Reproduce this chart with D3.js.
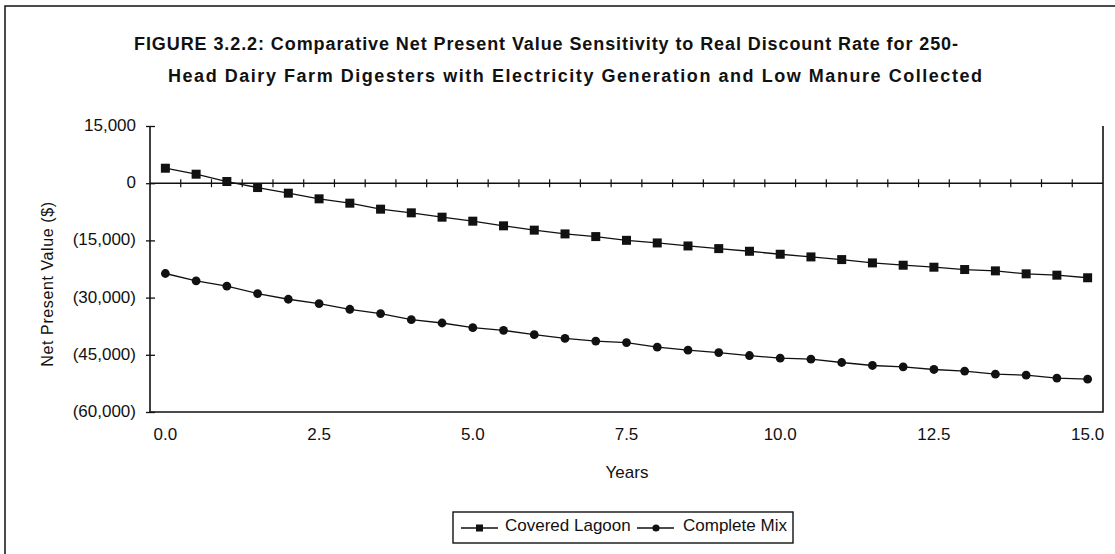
<!DOCTYPE html>
<html>
<head>
<meta charset="utf-8">
<script src="https://cdn.jsdelivr.net/npm/d3@7"></script>
<style>
  body { margin: 0; background: #fff; }
  svg { display: block; }
  text { font-family: "Liberation Sans", Arial, sans-serif; fill: #111; }
</style>
</head>
<body>
<svg id="chart" width="1115" height="554"></svg>
<script>
// Years on the category axis (half-year steps)
const years = [0, 0.5, 1, 1.5, 2, 2.5, 3, 3.5, 4, 4.5, 5, 5.5, 6, 6.5, 7, 7.5,
               8, 8.5, 9, 9.5, 10, 10.5, 11, 11.5, 12, 12.5, 13, 13.5, 14, 14.5, 15];

// Net present value ($) per year, two digester types
const coveredLagoon = [3930, 2360, 440, -1140, -2620, -4100, -5240, -6810, -7770, -8910,
  -9960, -11180, -12310, -13300, -14000, -14980, -15670, -16460, -17150, -17850,
  -18630, -19330, -20030, -20900, -21510, -22030, -22640, -22990, -23770, -24120, -24800];
const completeMix = [-23680, -25610, -27010, -28940, -30430, -31570, -33060, -34200, -35780, -36660,
  -37890, -38590, -39730, -40700, -41400, -41790, -43010, -43800, -44410, -45190,
  -45890, -46150, -47020, -47800, -48150, -48850, -49280, -50070, -50330, -51110, -51400];

const xTickYears = [0, 2.5, 5, 7.5, 10, 12.5, 15];
const xTickLabels = ["0.0", "2.5", "5.0", "7.5", "10.0", "12.5", "15.0"];
const yTickValues = [15000, 0, -15000, -30000, -45000, -60000];
const yTickLabels = ["15,000", "0", "(15,000)", "(30,000)", "(45,000)", "(60,000)"];

const titleLines = [
  "FIGURE 3.2.2:  Comparative Net Present Value Sensitivity to Real Discount Rate for 250-",
  "Head Dairy Farm Digesters with Electricity Generation and Low Manure Collected"
];
const seriesNames = ["Covered Lagoon", "Complete Mix"];

const svg = d3.select("#chart");
const plot = { left: 150, right: 1103, top: 126, bottom: 412 };

const x = d3.scaleBand().domain(years).range([plot.left, plot.right]);
const cx = d => x(d) + x.bandwidth() / 2;
const y = d3.scaleLinear().domain([-60000, 15000]).range([plot.bottom, plot.top]);

// Outer page frame (top and left edges)
svg.append("path").attr("d", "M5,554V6H1115")
  .attr("fill", "none").attr("stroke", "#111").attr("stroke-width", 1.5);

// Title, two bold lines
const titleLayout = [{ x0: 134, w: 824, base: 50 }, { x0: 168, w: 814, base: 82 }];
svg.selectAll("text.title").data(titleLines).join("text")
  .attr("class", "title")
  .attr("x", (d, i) => titleLayout[i].x0)
  .attr("y", (d, i) => titleLayout[i].base)
  .attr("textLength", (d, i) => titleLayout[i].w)
  .attr("lengthAdjust", "spacing")
  .attr("font-size", 18)
  .attr("font-weight", "bold")
  .text(d => d);

// Plot frame: left, bottom, right
svg.append("path")
  .attr("d", `M${plot.left},${plot.top}V${plot.bottom}H${plot.right}V${plot.top}`)
  .attr("fill", "none").attr("stroke", "#111").attr("stroke-width", 1.6);

// Y axis ticks and labels
const yAxis = d3.axisLeft(y).tickValues(yTickValues)
  .tickFormat((d, i) => yTickLabels[i]).tickSize(4).tickPadding(10);
const gy = svg.append("g").attr("transform", `translate(${plot.left},0)`).call(yAxis);
gy.select(".domain").remove();
gy.selectAll(".tick line").attr("x1", 5).attr("stroke", "#111").attr("stroke-width", 1.3);
gy.selectAll(".tick text").attr("font-size", 17).attr("font-family", null)
  .attr("fill", "#111").attr("dy", "0.26em");

// Zero line carrying the category tick marks
svg.append("line")
  .attr("x1", plot.left).attr("x2", plot.right)
  .attr("y1", y(0)).attr("y2", y(0))
  .attr("stroke", "#111").attr("stroke-width", 1.5);
svg.append("g").selectAll("line").data(years.slice(1)).join("line")
  .attr("x1", d => x(d)).attr("x2", d => x(d))
  .attr("y1", y(0) - 4).attr("y2", y(0) + 4)
  .attr("stroke", "#111").attr("stroke-width", 1.2);

// X tick labels under the plot
svg.append("g").selectAll("text").data(xTickYears).join("text")
  .attr("x", d => cx(d)).attr("y", 440)
  .attr("text-anchor", "middle").attr("font-size", 17)
  .text((d, i) => xTickLabels[i]);

// Axis titles
svg.append("text").attr("x", 627).attr("y", 478)
  .attr("text-anchor", "middle").attr("font-size", 17).text("Years");
svg.append("text")
  .attr("transform", "translate(53,284) rotate(-90)")
  .attr("text-anchor", "middle").attr("font-size", 16)
  .attr("letter-spacing", 0.6).text("Net Present Value ($)");

// Series lines and markers
const line = d3.line().x((d, i) => cx(years[i])).y(d => y(d));
[coveredLagoon, completeMix].forEach((vals, s) => {
  svg.append("path").datum(vals).attr("d", line)
    .attr("fill", "none").attr("stroke", "#111").attr("stroke-width", 1.3);
  const g = svg.append("g");
  if (s === 0) {
    g.selectAll("rect").data(vals).join("rect")
      .attr("x", (d, i) => cx(years[i]) - 4.5).attr("y", d => y(d) - 4.5)
      .attr("width", 9).attr("height", 9).attr("fill", "#111");
  } else {
    g.selectAll("circle").data(vals).join("circle")
      .attr("cx", (d, i) => cx(years[i])).attr("cy", d => y(d))
      .attr("r", 4.4).attr("fill", "#111");
  }
});

// Legend
const lg = svg.append("g");
lg.append("rect").attr("x", 453).attr("y", 512).attr("width", 340).attr("height", 31)
  .attr("fill", "#fff").attr("stroke", "#111").attr("stroke-width", 1.4);
const items = [
  { sx: 461, tx: 505, shape: "square" },
  { sx: 637, tx: 683, shape: "circle" }
];
items.forEach((it, i) => {
  const my = 528;
  lg.append("line").attr("x1", it.sx).attr("x2", it.sx + 37)
    .attr("y1", my).attr("y2", my).attr("stroke", "#111").attr("stroke-width", 1.3);
  if (it.shape === "square") {
    lg.append("rect").attr("x", it.sx + 15).attr("y", my - 3.5).attr("width", 7).attr("height", 7).attr("fill", "#111");
  } else {
    lg.append("circle").attr("cx", it.sx + 19).attr("cy", my).attr("r", 3.6).attr("fill", "#111");
  }
  lg.append("text").attr("x", it.tx).attr("y", my + 3)
    .attr("font-size", 17).text(seriesNames[i]);
});
</script>
</body>
</html>
